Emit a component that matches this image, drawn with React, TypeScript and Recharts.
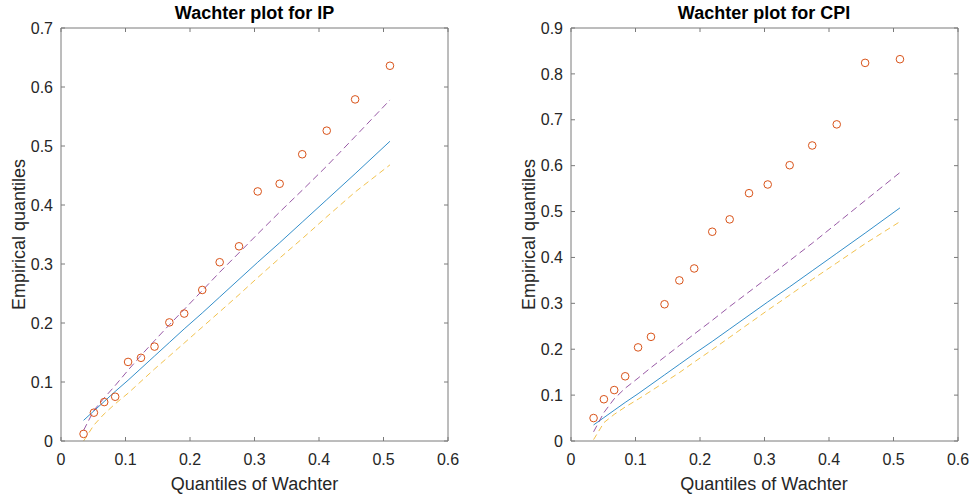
import React from 'react';
import { ComposedChart, Line, Scatter, XAxis, YAxis, ReferenceLine } from 'recharts';

// quantiles of the Wachter distribution (x positions, shared by both panels)
const wachterQ = [0.035, 0.051, 0.067, 0.084, 0.104, 0.124, 0.145, 0.168, 0.191, 0.219, 0.246, 0.276, 0.305, 0.339, 0.374, 0.412, 0.456, 0.51];

// reference line (solid blue) - same in both panels
const refLine = [0.035, 0.051, 0.067, 0.084, 0.103, 0.123, 0.144, 0.167, 0.19, 0.217, 0.244, 0.274, 0.303, 0.336, 0.371, 0.409, 0.453, 0.508];

// IP panel
const ipEmpirical = [0.012, 0.048, 0.066, 0.075, 0.134, 0.141, 0.16, 0.201, 0.216, 0.256, 0.303, 0.33, 0.423, 0.436, 0.486, 0.526, 0.579, 0.636];
const ipUpper = [0.018, 0.052, 0.073, 0.094, 0.12, 0.145, 0.17, 0.197, 0.223, 0.255, 0.286, 0.319, 0.351, 0.388, 0.425, 0.466, 0.516, 0.578];
const ipLower = [0.0, 0.027, 0.046, 0.063, 0.081, 0.101, 0.122, 0.144, 0.166, 0.193, 0.219, 0.248, 0.277, 0.31, 0.343, 0.38, 0.422, 0.468];

// CPI panel
const cpiEmpirical = [0.05, 0.091, 0.111, 0.141, 0.204, 0.227, 0.298, 0.35, 0.376, 0.456, 0.483, 0.54, 0.559, 0.601, 0.644, 0.69, 0.824, 0.832];
const cpiUpper = [0.02, 0.062, 0.092, 0.115, 0.137, 0.16, 0.183, 0.208, 0.233, 0.263, 0.293, 0.325, 0.356, 0.393, 0.431, 0.474, 0.524, 0.585];
const cpiLower = [0.003, 0.04, 0.058, 0.074, 0.091, 0.109, 0.128, 0.149, 0.172, 0.199, 0.226, 0.256, 0.285, 0.318, 0.352, 0.388, 0.43, 0.478];

const xTicks = [0, 0.1, 0.2, 0.3, 0.4, 0.5, 0.6];
const ipTicks = [0, 0.1, 0.2, 0.3, 0.4, 0.5, 0.6, 0.7];
const cpiTicks = [0, 0.1, 0.2, 0.3, 0.4, 0.5, 0.6, 0.7, 0.8, 0.9];

const FONT = '"Liberation Sans", Arial, Helvetica, sans-serif';
const AXIS_COLOR = '#7a7a7a';
const TEXT_COLOR = '#262626';
const PLOT_W = 387;
const PLOT_H = 413;
const TICK_LEN = 4;

const fmt = (v: number) => (v === 0 ? '0' : v.toFixed(1));

const buildRows = (emp: number[], upper: number[], lower: number[]) =>
  wachterQ.map((x, i) => ({ x, emp: emp[i], mid: refLine[i], upper: upper[i], lower: lower[i] }));

const Ring = (props: any) => {
  const { cx, cy } = props;
  if (cx == null || cy == null) return null;
  return <circle cx={cx} cy={cy} r={3.8} fill="none" stroke="#D95319" strokeWidth={1} />;
};

// bottom tick: label + inward tick on bottom and top edge (MATLAB box style)
const XTick = (props: any) => {
  const { x, y, payload } = props;
  return (
    <g>
      <line x1={x} y1={y} x2={x} y2={y - TICK_LEN} stroke={AXIS_COLOR} />
      <line x1={x} y1={y - PLOT_H} x2={x} y2={y - PLOT_H + TICK_LEN} stroke={AXIS_COLOR} />
      <text x={x} y={y + 24} textAnchor="middle" fontSize={16} fill={TEXT_COLOR} fontFamily={FONT}>
        {fmt(payload.value)}
      </text>
    </g>
  );
};

// left tick: label + inward tick on left and right edge
const YTick = (props: any) => {
  const { x, y, payload } = props;
  return (
    <g>
      <line x1={x} y1={y} x2={x + TICK_LEN} y2={y} stroke={AXIS_COLOR} />
      <line x1={x + PLOT_W} y1={y} x2={x + PLOT_W - TICK_LEN} y2={y} stroke={AXIS_COLOR} />
      <text x={x - 8} y={y + 5.7} textAnchor="end" fontSize={16} fill={TEXT_COLOR} fontFamily={FONT}>
        {fmt(payload.value)}
      </text>
    </g>
  );
};

interface PanelProps {
  rows: any[];
  yTicks: number[];
  yMax: number;
  width: number;
  yAxisWidth: number;
  marginRight: number;
}

const Panel: React.FC<PanelProps> = ({ rows, yTicks, yMax, width, yAxisWidth, marginRight }) => (
  <ComposedChart
    width={width}
    height={495}
    data={rows}
    margin={{ top: 28, right: marginRight, bottom: 24, left: 0 }}
  >
    <XAxis
      dataKey="x"
      type="number"
      domain={[0, 0.6]}
      allowDataOverflow
      ticks={xTicks}
      interval={0}
      height={30}
      tickSize={0}
      tickMargin={0}
      tickLine={false}
      tick={XTick}
      stroke={AXIS_COLOR}
    />
    <YAxis
      type="number"
      domain={[0, yMax]}
      allowDataOverflow
      ticks={yTicks}
      interval={0}
      width={yAxisWidth}
      tickSize={0}
      tickMargin={0}
      tickLine={false}
      tick={YTick}
      stroke={AXIS_COLOR}
    />
    {/* box edges */}
    <ReferenceLine y={yMax} stroke={AXIS_COLOR} />
    <ReferenceLine x={0.6} stroke={AXIS_COLOR} />
    <Line type="linear" dataKey="mid" stroke="#0072BD" strokeWidth={0.8} dot={false} isAnimationActive={false} />
    <Line type="linear" dataKey="upper" stroke="#7E2F8E" strokeWidth={0.8} strokeDasharray="7 4" dot={false} isAnimationActive={false} />
    <Line type="linear" dataKey="lower" stroke="#EDB120" strokeWidth={0.8} strokeDasharray="6 4" dot={false} isAnimationActive={false} />
    <Scatter dataKey="emp" shape={Ring} isAnimationActive={false} />
  </ComposedChart>
);

export default function App() {
  const ipRows = buildRows(ipEmpirical, ipUpper, ipLower);
  const cpiRows = buildRows(cpiEmpirical, cpiUpper, cpiLower);

  return (
    <div style={{ position: 'absolute', left: 0, top: 0, width: 973, height: 495, background: '#fff', fontFamily: FONT }}>
      <div style={{ position: 'absolute', left: 0, top: 0 }}>
        <Panel rows={ipRows} yTicks={ipTicks} yMax={0.7} width={480} yAxisWidth={61} marginRight={32} />
      </div>
      <div style={{ position: 'absolute', left: 490, top: 0 }}>
        <Panel rows={cpiRows} yTicks={cpiTicks} yMax={0.9} width={483} yAxisWidth={81} marginRight={15} />
      </div>
      <svg width={973} height={495} style={{ position: 'absolute', left: 0, top: 0, pointerEvents: 'none' }}>
        <g fontFamily={FONT} fill="#000">
          <text x={254.5} y={18.5} fontSize={18} fontWeight="bold" textAnchor="middle">Wachter plot for IP</text>
          <text x={764} y={18.5} fontSize={18} fontWeight="bold" textAnchor="middle">Wachter plot for CPI</text>
          <text x={254.5} y={490} fontSize={18} fill={TEXT_COLOR} textAnchor="middle">Quantiles of Wachter</text>
          <text x={764} y={490} fontSize={18} fill={TEXT_COLOR} textAnchor="middle">Quantiles of Wachter</text>
          <text transform="translate(25,234.5) rotate(-90)" fontSize={18} fill={TEXT_COLOR} textAnchor="middle">Empirical quantiles</text>
          <text transform="translate(534.5,234.5) rotate(-90)" fontSize={18} fill={TEXT_COLOR} textAnchor="middle">Empirical quantiles</text>
        </g>
      </svg>
    </div>
  );
}
